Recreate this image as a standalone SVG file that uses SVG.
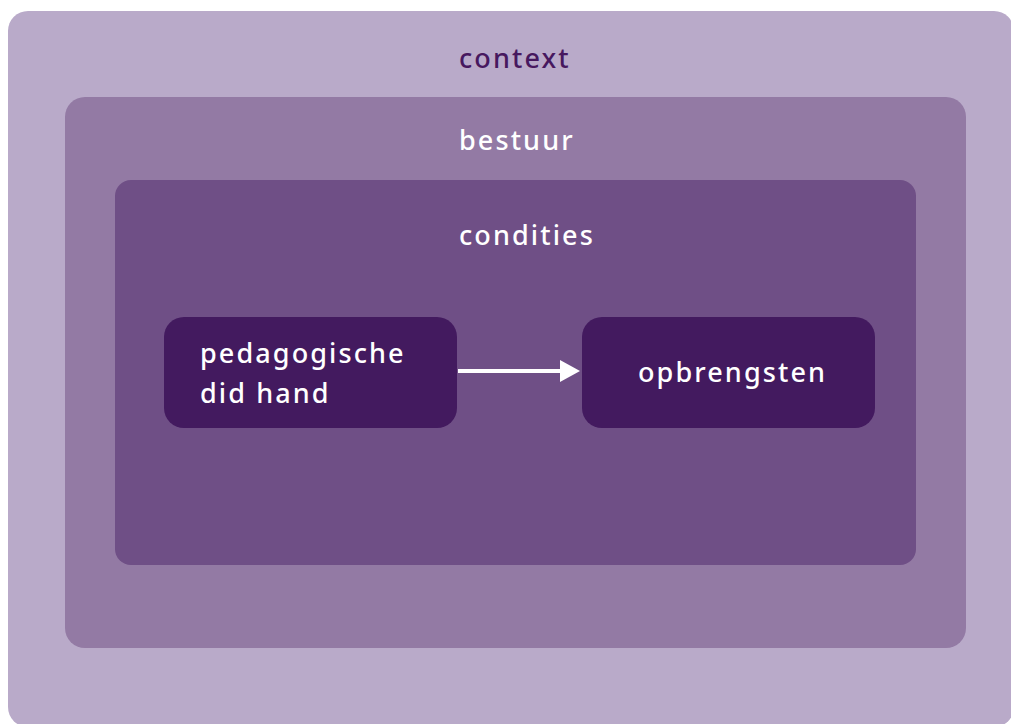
<svg xmlns="http://www.w3.org/2000/svg" width="1011" height="724" viewBox="0 0 1011 724">
<style>
.lbl{font-family:"Noto Sans","Open Sans","Liberation Sans",sans-serif;font-size:27px;font-weight:500;letter-spacing:2.1px;fill:#ffffff}
.node{fill:#431a5f}
</style>
<defs>
<marker id="ah" markerWidth="20" markerHeight="22" refX="0" refY="11" orient="auto" markerUnits="userSpaceOnUse">
<path d="M0,0 L20,11 L0,22 Z" fill="#ffffff"/>
</marker>
</defs>
<rect width="1011" height="724" fill="#ffffff"/>
<g id="context">
<rect x="8" y="11" width="1006" height="716" rx="20" fill="#b9aac9"/>
<text class="lbl" x="459" y="68" style="fill:#47185f">context</text>
</g>
<g id="bestuur">
<rect x="65" y="97" width="901" height="551" rx="20" fill="#937aa4"/>
<text class="lbl" x="459" y="150">bestuur</text>
</g>
<g id="condities">
<rect x="115" y="180" width="801" height="385" rx="16" fill="#6f4f86"/>
<text class="lbl" x="459" y="245">condities</text>
</g>
<g id="pedagogische">
<rect class="node" x="164" y="317" width="293" height="111" rx="20"/>
<text class="lbl" x="200" y="363">pedagogische</text>
<text class="lbl" x="200" y="403">did hand</text>
</g>
<g id="opbrengsten">
<rect class="node" x="582" y="317" width="293" height="111" rx="20"/>
<text class="lbl" x="638" y="382">opbrengsten</text>
</g>
<g id="connectors">
<line x1="458" y1="371" x2="560" y2="371" stroke="#ffffff" stroke-width="4" marker-end="url(#ah)"/>
</g>
</svg>
